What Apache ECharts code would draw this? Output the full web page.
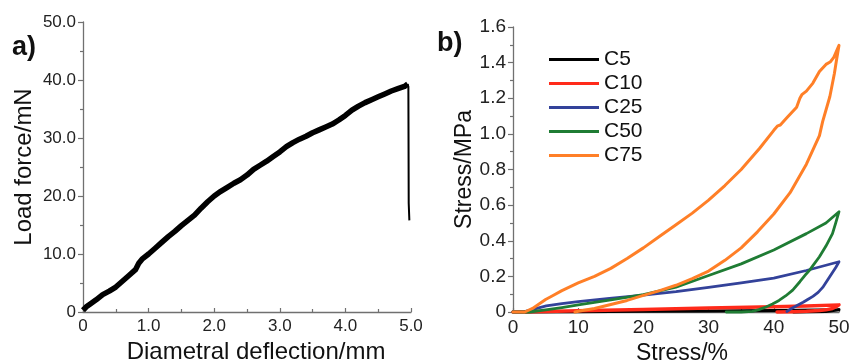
<!DOCTYPE html>
<html>
<head>
<meta charset="utf-8">
<script src="https://cdn.jsdelivr.net/npm/echarts@6/dist/echarts.min.js"></script>
<style>
html,body{margin:0;padding:0;background:#fff;}
#chart{width:850px;height:361px;}
</style>
</head>
<body>
<div id="chart"></div>
<script>
// ---------- Panel a data ----------
var deflection = [0, 0.05, 0.1, 0.2, 0.3, 0.4, 0.5, 0.6, 0.7, 0.8, 0.85, 0.9, 1.0, 1.1, 1.2, 1.3, 1.4, 1.5, 1.6, 1.7, 1.8, 1.9, 2.0, 2.1, 2.2, 2.3, 2.4, 2.5, 2.6, 2.7, 2.8, 2.9, 3.0, 3.1, 3.2, 3.3, 3.4, 3.5, 3.6, 3.7, 3.8, 3.9, 4.0, 4.1, 4.2, 4.3, 4.4, 4.5, 4.6, 4.7, 4.8, 4.9, 4.95];
var loadForce  = [0.3, 0.9, 1.3, 2.1, 3.0, 3.6, 4.3, 5.3, 6.3, 7.3, 8.4, 9.1, 10.0, 11.0, 12.0, 13.0, 13.9, 14.9, 15.8, 16.7, 17.9, 19.0, 20.0, 20.8, 21.5, 22.2, 22.8, 23.6, 24.6, 25.3, 26.0, 26.8, 27.6, 28.5, 29.2, 29.8, 30.3, 30.9, 31.4, 31.9, 32.4, 33.1, 33.9, 34.8, 35.5, 36.1, 36.6, 37.1, 37.6, 38.1, 38.5, 38.9, 39.3];
var dropDeflection = [4.95, 4.96, 4.965, 4.975, 4.975];
var dropLoad       = [39.3, 38.8, 18.8, 18.5, 15.8];
var aXTickLabels = ['0', '1.0', '2.0', '3.0', '4.0', '5.0'];
var aYTickLabels = ['0', '10.0', '20.0', '30.0', '40.0', '50.0'];

// ---------- Panel b data ----------
var seriesNames = ['C5', 'C10', 'C25', 'C50', 'C75'];
var c5Strain  = [0, 10, 20, 30, 40, 50, 48, 43];
var c5Stress  = [0, 0.002, 0.004, 0.006, 0.008, 0.012, 0.003, 0];
var c10Strain = [0, 5, 10, 20, 30, 40, 45, 50, 49.5, 49, 48, 47, 45, 43, 40.5];
var c10Stress = [0, 0.003, 0.007, 0.014, 0.022, 0.03, 0.034, 0.04, 0.028, 0.02, 0.012, 0.008, 0.004, 0.002, 0];
var c25Strain = [0, 1.5, 2.6, 3.8, 5.1, 7.5, 10, 14.8, 20, 25, 30, 35, 40, 45, 50, 49.5, 48.8, 48, 47.5, 46.8, 46, 45.2, 44.5, 43.5, 42.5, 42];
var c25Stress = [0, 0, 0.01, 0.022, 0.034, 0.047, 0.058, 0.077, 0.095, 0.114, 0.138, 0.164, 0.19, 0.233, 0.282, 0.25, 0.21, 0.165, 0.138, 0.11, 0.088, 0.07, 0.055, 0.035, 0.015, 0.003];
var c50Strain = [0, 2.5, 5, 7.5, 10, 15, 20, 25, 30, 35, 40, 45, 48, 50,
                 49.5, 49, 48, 47, 46, 45.5, 45, 44, 42.9, 41.8, 40.8, 39.8, 38.8, 37.7, 36.7, 35, 32.7];
var c50Stress = [0, 0, 0.012, 0.025, 0.04, 0.068, 0.098, 0.14, 0.205, 0.27, 0.348, 0.44, 0.5, 0.563,
                 0.5, 0.44, 0.37, 0.31, 0.26, 0.235, 0.215, 0.17, 0.123, 0.09, 0.065, 0.045, 0.028, 0.013, 0.004, 0, 0];
var c75Strain = [0, 1.8, 3, 4, 5, 6, 7.5, 10, 12.5, 15, 17.5, 20, 22.5, 25, 27.5, 30, 32.5, 35, 37.8, 40, 40.6, 41, 42, 43.5, 44, 44.3, 45, 46, 47, 47.3, 48, 48.3, 48.7, 49.2, 50,
                 49.6, 49.3, 48.6, 47.5, 47, 45, 42.5, 40, 37.5, 35, 32.5, 30, 27.5, 25, 22.5, 20, 17.5, 15, 12.5, 10, 9.5];
var c75Stress = [0, 0, 0.02, 0.045, 0.07, 0.09, 0.12, 0.163, 0.2, 0.245, 0.3, 0.36, 0.425, 0.49, 0.555, 0.628, 0.71, 0.8, 0.918, 1.02, 1.045, 1.05, 1.09, 1.15, 1.2, 1.22, 1.24, 1.285, 1.35, 1.345, 1.39, 1.4, 1.405, 1.43, 1.497,
                 1.41, 1.34, 1.21, 1.07, 0.99, 0.83, 0.67, 0.55, 0.45, 0.36, 0.29, 0.23, 0.188, 0.15, 0.12, 0.093, 0.065, 0.042, 0.02, 0.004, 0];
var bXTickLabels = ['0', '10', '20', '30', '40', '50'];
var bYTickLabels = ['0', '0.2', '0.4', '0.6', '0.8', '1.0', '1.2', '1.4', '1.6'];

function zip(xs, ys) { return xs.map(function (x, i) { return [x, ys[i]]; }); }

var FONT = '"Liberation Sans", Arial, sans-serif';
var axisCol = '#707070';
var labelCol = '#222';

function yAxisCfg(gridIndex, min, max, interval, labels, fs, name, nameGap, nameFs) {
  return {
    type: 'value', gridIndex: gridIndex, min: min, max: max, interval: interval,
    name: name, nameLocation: 'middle', nameGap: nameGap, nameRotate: 90,
    nameTextStyle: { fontFamily: FONT, fontSize: nameFs, color: '#111' },
    axisLine: { show: true, lineStyle: { color: axisCol, width: 1.3 } },
    axisTick: { show: true, inside: false, length: 5, lineStyle: { color: axisCol, width: 1.2 } },
    minorTick: { show: true, splitNumber: 2, length: 3, lineStyle: { color: axisCol, width: 1.2 } },
    splitLine: { show: false },
    axisLabel: { fontFamily: FONT, fontSize: fs, color: labelCol, margin: 7,
      formatter: function (v) { return labels[Math.round((v - min) / interval)]; } }
  };
}
function xAxisCfg(gridIndex, min, max, interval, labels, fs, name, nameGap, nameFs, shift) {
  return {
    type: 'value', gridIndex: gridIndex, min: min, max: max, interval: interval,
    name: name, nameLocation: 'middle', nameGap: nameGap,
    nameTextStyle: { fontFamily: FONT, fontSize: nameFs, color: '#111', padding: [0, 0, 0, shift] },
    axisLine: { show: true, lineStyle: { color: axisCol, width: 1.3 } },
    axisTick: { show: true, inside: true, length: 4, lineStyle: { color: axisCol, width: 1.2 } },
    minorTick: { show: true, splitNumber: 2, length: 3, lineStyle: { color: axisCol, width: 1.2 } },
    splitLine: { show: false },
    axisLabel: { fontFamily: FONT, fontSize: fs, color: labelCol, margin: 6,
      formatter: function (v) { return labels[Math.round((v - min) / interval)]; } }
  };
}

var colors = { C5: '#000000', C10: '#ff2a1a', C25: '#33429a', C50: '#1f7c34', C75: '#ff7f27' };
var widths = { C5: 3, C10: 3.5, C25: 2.8, C50: 2.8, C75: 3 };
var bData = { C5: zip(c5Strain, c5Stress), C10: zip(c10Strain, c10Stress), C25: zip(c25Strain, c25Stress), C50: zip(c50Strain, c50Stress), C75: zip(c75Strain, c75Stress) };

var bSeries = seriesNames.map(function (n) {
  return {
    name: n, type: 'line', xAxisIndex: 1, yAxisIndex: 1, data: bData[n],
    showSymbol: false, symbol: 'none', smooth: false, animation: false, clip: false,
    lineStyle: { color: colors[n], width: widths[n], cap: 'round', join: 'round' },
    itemStyle: { color: colors[n] }
  };
});

var option = {
  backgroundColor: '#fff',
  animation: false,
  grid: [
    { left: 83, top: 22, width: 328, height: 290, containLabel: false, outerBoundsMode: 'none' },
    { left: 513, top: 27, width: 326, height: 285, containLabel: false, outerBoundsMode: 'none' }
  ],
  xAxis: [
    xAxisCfg(0, 0, 5, 1, aXTickLabels, 17, 'Diametral deflection/mm', 22, 24, 18),
    xAxisCfg(1, 0, 50, 10, bXTickLabels, 19, 'Stress/%', 16, 23, 12)
  ],
  yAxis: [
    yAxisCfg(0, 0, 50, 10, aYTickLabels, 17, 'Load force/mN', 47, 24),
    yAxisCfg(1, 0, 1.6, 0.2, bYTickLabels, 19, 'Stress/MPa', 32, 23)
  ],
  legend: {
    data: seriesNames, orient: 'vertical', left: 549, top: 49, padding: 0,
    itemWidth: 50, itemHeight: 3, itemGap: 3, icon: 'rect',
    textStyle: { fontFamily: FONT, fontSize: 21, lineHeight: 21, color: '#111' }
  },
  graphic: [
    { type: 'text', left: 12, top: 34, style: { text: 'a)', font: 'bold 27px ' + FONT, fill: '#111' } },
    { type: 'text', left: 437, top: 30, style: { text: 'b)', font: 'bold 27px ' + FONT, fill: '#111' } }
  ],
  series: [
    { name: 'load', type: 'line', xAxisIndex: 0, yAxisIndex: 0, data: zip(deflection, loadForce),
      showSymbol: false, symbol: 'none', animation: false,
      lineStyle: { color: '#000', width: 5.5, join: 'round' } },
    { name: 'drop', type: 'line', xAxisIndex: 0, yAxisIndex: 0, data: zip(dropDeflection, dropLoad),
      showSymbol: false, symbol: 'none', animation: false,
      lineStyle: { color: '#000', width: 2 } }
  ].concat(bSeries)
};

var chart = echarts.init(document.getElementById('chart'), null, { renderer: 'canvas' });
chart.setOption(option);
</script>
</body>
</html>
